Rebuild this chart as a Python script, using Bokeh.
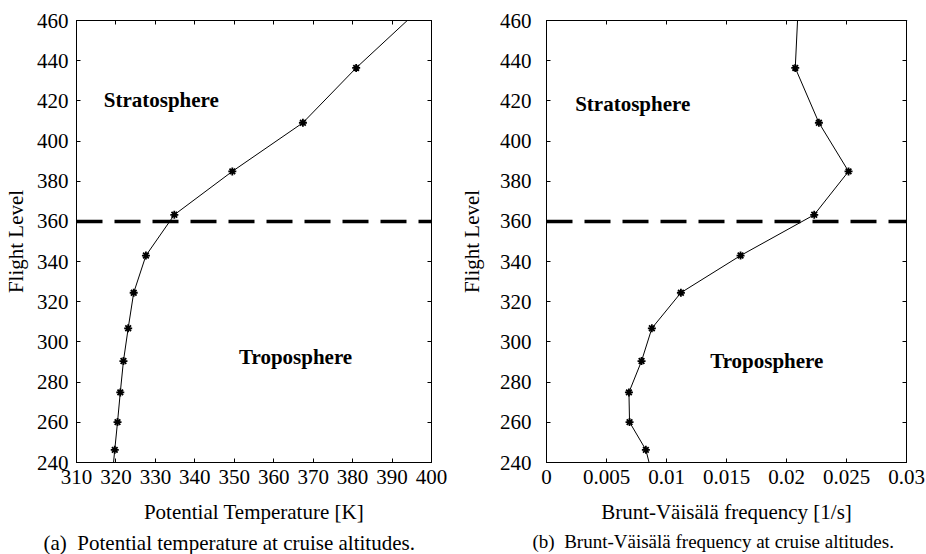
from bokeh.plotting import figure
from bokeh.layouts import row
from bokeh.models import (Range1d, FixedTicker, LinearAxis, Span, Title,
                          NumeralTickFormatter, CustomJSTickFormatter)
from bokeh.core.properties import value
from bokeh.embed import file_html
from bokeh.resources import INLINE

# ---------------- data ----------------
flight_level = [232.0, 246.3, 260.1, 274.9, 290.5, 306.8, 324.5, 343.0,
                363.3, 384.9, 409.1, 436.4, 465.0]
potential_temp = [319.0, 319.7, 320.4, 321.1, 321.9, 323.1, 324.5, 327.6,
                  334.8, 349.5, 367.4, 380.9, 396.6]
brunt_vaisala = [0.00889, 0.00828, 0.00692, 0.00687, 0.00792, 0.00878,
                 0.0112, 0.01617, 0.02231, 0.02517, 0.0227, 0.02073, 0.02096]

tropopause_fl = 360
fl_ticks = [240, 260, 280, 300, 320, 340, 360, 380, 400, 420, 440, 460]
theta_ticks = [310, 320, 330, 340, 350, 360, 370, 380, 390, 400]
n_ticks = [0, 0.005, 0.01, 0.015, 0.02, 0.025, 0.03]

label_names = ["Stratosphere", "Troposphere"]
left_label_x = [316.9, 351.2]
left_label_y = [420.6, 292.3]
right_label_x = [0.00239, 0.01364]
right_label_y = [418.5, 290.4]

FONT = "Liberation Serif"
FS = "21px"
NBSP = "\u00a0"


def style(p, xticks, yticks, xlabel, caption, cap_offset, cap_size,
          ystandoff, ylabstandoff):
    p.xgrid.visible = False
    p.ygrid.visible = False
    p.outline_line_color = "black"
    p.outline_line_width = 1
    for ax in (p.xaxis[0], p.yaxis[0]):
        ax.major_tick_in = 4
        ax.major_tick_out = 0
        ax.minor_tick_in = 0
        ax.minor_tick_out = 0
        ax.axis_line_color = "black"
        ax.major_tick_line_color = "black"
        ax.major_label_text_font = FONT
        ax.major_label_text_font_size = FS
        ax.major_label_text_color = "black"
        ax.axis_label_text_font = FONT
        ax.axis_label_text_font_size = FS
        ax.axis_label_text_font_style = "normal"
        ax.axis_label_text_color = "black"
    p.xaxis[0].ticker = FixedTicker(ticks=xticks)
    p.yaxis[0].ticker = FixedTicker(ticks=yticks)
    p.xaxis[0].axis_label = xlabel
    p.yaxis[0].axis_label = "Flight Level"
    p.xaxis[0].major_label_standoff = 7
    p.xaxis[0].axis_label_standoff = 13
    p.yaxis[0].major_label_standoff = ystandoff
    p.yaxis[0].axis_label_standoff = ylabstandoff
    # mirror axes (ticks only, no labels)
    top = LinearAxis(ticker=FixedTicker(ticks=xticks), major_tick_in=4,
                     major_tick_out=0, minor_tick_in=0, minor_tick_out=0,
                     formatter=CustomJSTickFormatter(code="return ''"),
                     major_label_text_font_size="1px",
                     major_label_standoff=0)
    right = LinearAxis(ticker=FixedTicker(ticks=yticks), major_tick_in=4,
                       major_tick_out=0, minor_tick_in=0, minor_tick_out=0,
                       formatter=CustomJSTickFormatter(code="return ''"),
                       major_label_text_font_size="1px",
                       major_label_standoff=0)
    p.add_layout(top, "above")
    p.add_layout(right, "right")
    p.add_layout(Span(location=tropopause_fl, dimension="width",
                      line_color="black", line_width=3.5, line_dash="26 12"))
    t = Title(text=caption, align="left", offset=cap_offset,
              text_font=FONT, text_font_size=cap_size, text_font_style="normal",
              text_color="black", standoff=5)
    p.add_layout(t, "below")


# ---------------- left: potential temperature ----------------
p1 = figure(frame_width=355, frame_height=442, min_border_left=76,
            min_border_right=25, min_border_top=20, min_border_bottom=92,
            x_range=Range1d(310, 400), y_range=Range1d(240, 460),
            output_backend="svg", toolbar_location=None,
            background_fill_color="white", border_fill_color="white")
style(p1, theta_ticks, fl_ticks, "Potential Temperature [K]",
      "(a)" + NBSP * 2 + "Potential temperature at cruise altitudes.",
      -33, "21px", 8, 6)
p1.line(potential_temp, flight_level, line_color="black", line_width=1)
p1.scatter(potential_temp, flight_level, marker="asterisk", size=8,
           line_color="black", line_width=1.8)
p1.text(left_label_x, left_label_y, text=label_names,
        text_font=value(FONT), text_font_style="bold", text_font_size=FS,
        text_align="left", text_baseline="middle", text_color="black")

# ---------------- right: Brunt-Väisälä frequency ----------------
p2 = figure(frame_width=360, frame_height=442, min_border_left=84,
            min_border_right=20, min_border_top=20, min_border_bottom=92,
            x_range=Range1d(0, 0.03), y_range=Range1d(240, 460),
            output_backend="svg", toolbar_location=None,
            background_fill_color="white", border_fill_color="white")
style(p2, n_ticks, fl_ticks, "Brunt-Väisälä frequency [1/s]",
      "(b)" + NBSP * 2 + "Brunt-Väisälä frequency at cruise altitudes.",
      -14, "19px", 15, 13)
p2.xaxis[0].formatter = NumeralTickFormatter(format="0.[000]")
p2.line(brunt_vaisala, flight_level, line_color="black", line_width=1)
p2.scatter(brunt_vaisala, flight_level, marker="asterisk", size=8,
           line_color="black", line_width=1.8)
p2.text(right_label_x, right_label_y, text=label_names,
        text_font=value(FONT), text_font_style="bold", text_font_size=FS,
        text_align="left", text_baseline="middle", text_color="black")

layout = row(p1, p2, spacing=0)
open("out.html", "w").write(file_html(layout, INLINE))
